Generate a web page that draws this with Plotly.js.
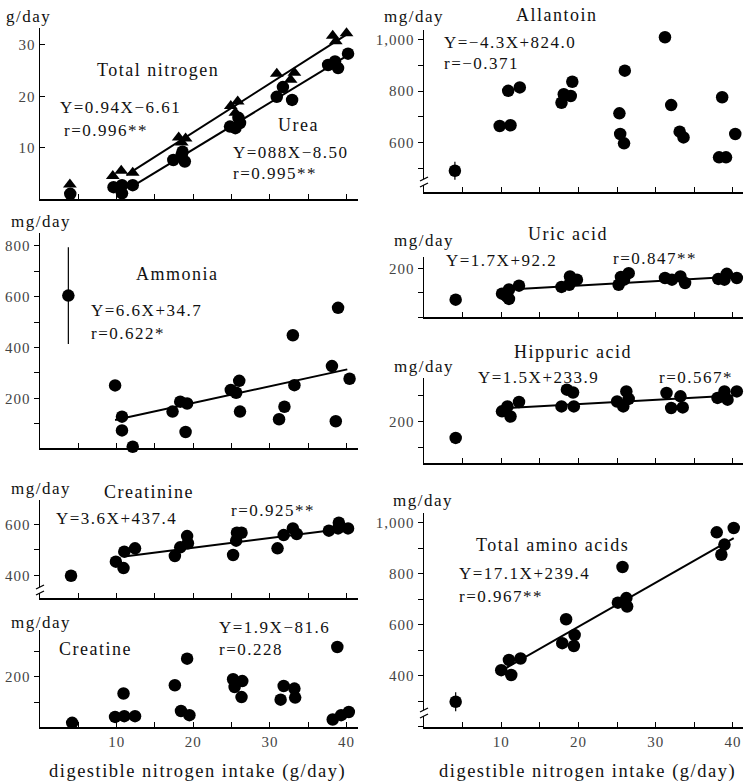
<!DOCTYPE html>
<html>
<head>
<meta charset="utf-8">
<script src="https://cdn.plot.ly/plotly-3.0.1.min.js"></script>
<style>
html,body{margin:0;padding:0;background:#fff;}
#chart{width:745px;height:784px;}
.annotation-text{letter-spacing:1.5px;}
.yaxislayer-above text,.xaxislayer-above text{letter-spacing:1px;}
</style>
</head>
<body>
<div id="chart"></div>
<script>
// ---------- DATA ----------
// Total nitrogen (triangles) and urea (circles), g/day
const tnX = [3.9, 9.5, 10.6, 12.1, 18.1, 19.0, 18.5, 24.9, 25.8, 25.5, 30.9, 33.2, 32.7, 38.2, 40.0, 38.6];
const tnY = [2.8, 4.5, 5.5, 5.1, 12.0, 11.8, 11.0, 18.1, 19.0, 16.8, 24.4, 24.6, 23.2, 31.8, 32.3, 30.7];
const ureaX = [3.95, 9.6, 10.7, 12.1, 10.7, 17.4, 18.5, 18.9, 18.6, 24.8, 25.5, 26.1, 25.9, 30.9, 31.7, 32.9, 37.6, 38.5, 38.9, 40.2];
const ureaY = [1.0, 2.3, 2.7, 2.7, 1.1, 7.6, 8.6, 7.3, 9.2, 14.1, 13.8, 14.8, 15.8, 19.9, 21.8, 19.3, 26.1, 26.8, 25.5, 28.3];
const tnFitX = [11.3, 40.0], tnFitY = [4.7, 32.0];
const ureaFitX = [12.0, 40.2], ureaFitY = [2.4, 28.0];

// Ammonia, mg/day
const ammX = [3.7, 9.8, 10.7, 10.7, 12.1, 17.3, 18.3, 19.2, 19.0, 24.9, 25.6, 26.0, 26.1, 31.2, 31.9, 33.0, 33.2, 38.1, 38.6, 38.9, 40.4];
const ammY = [604, 251, 128, 74, 10, 148, 187, 180, 68, 233, 222, 269, 148, 118, 167, 448, 252, 327, 110, 556, 277];
const ammErr = [190, 0, 0, 0, 0, 0, 0, 0, 0, 0, 0, 0, 0, 0, 0, 0, 0, 0, 0, 0, 0];
const ammFitX = [9.8, 40.1], ammFitY = [115, 314];

// Creatinine, mg/day
const crnX = [4.05, 9.9, 10.9, 11.0, 12.4, 17.6, 18.3, 19.2, 19.3, 25.2, 25.6, 25.7, 26.3, 31.0, 31.8, 33.0, 33.5, 37.7, 38.9, 39.0, 40.2];
const crnY = [399, 454, 429, 493, 506, 476, 510, 554, 526, 480, 536, 567, 567, 506, 558, 584, 562, 575, 584, 606, 584];
const crnFitX = [11.0, 39.9], crnFitY = [474, 584];

// Creatine, mg/day
const creX = [4.2, 9.8, 10.9, 11.0, 12.4, 17.6, 18.4, 19.5, 19.2, 25.2, 25.4, 26.4, 26.3, 31.4, 31.8, 33.2, 33.3, 38.2, 38.8, 39.3, 40.3];
const creY = [22, 45, 136, 48, 48, 168, 68, 52, 271, 191, 161, 184, 122, 112, 165, 155, 120, 35, 316, 52, 64];

// Allantoin, mg/day
const allX = [4.0, 9.8, 11.2, 10.9, 12.4, 17.8, 18.1, 19.0, 19.2, 25.3, 25.4, 25.9, 26.0, 31.2, 32.0, 33.1, 33.6, 38.2, 39.1, 38.6, 40.3];
const allY = [492, 665, 668, 801, 814, 755, 788, 781, 836, 714, 634, 598, 879, 1008, 746, 643, 621, 544, 544, 776, 634];
const allErr = [35, 0, 0, 0, 0, 0, 0, 0, 0, 0, 0, 0, 0, 0, 0, 0, 0, 0, 0, 0, 0];

// Uric acid, mg/day
const uriX = [4.1, 10.1, 10.7, 11.0, 11.0, 12.3, 17.8, 18.9, 19.8, 18.8, 25.2, 25.5, 26.5, 25.9, 31.2, 32.1, 33.2, 33.8, 38.1, 39.2, 38.9, 40.5];
const uriY = [72, 97, 86, 75, 114, 130, 125, 168, 155, 134, 134, 166, 182, 155, 162, 155, 168, 141, 158, 179, 155, 162];
const uriFitX = [11.1, 40.5], uriFitY = [114, 168];

// Hippuric acid, mg/day
const hipX = [4.1, 10.1, 10.8, 11.2, 12.3, 17.8, 18.5, 19.3, 19.4, 25.0, 25.8, 26.2, 26.5, 31.4, 32.0, 33.2, 33.5, 38.0, 38.9, 39.3, 40.5];
const hipY = [136, 239, 258, 219, 275, 258, 323, 312, 258, 277, 258, 316, 287, 310, 252, 297, 254, 291, 316, 284, 316];
const hipFitX = [10.7, 40.1], hipFitY = [252, 300];

// Total amino acids, mg/day
const amiX = [4.1, 10.0, 11.0, 11.3, 12.5, 17.9, 18.4, 19.4, 19.5, 25.1, 25.7, 26.2, 26.3, 37.9, 38.5, 38.9, 40.1];
const amiY = [298, 422, 462, 403, 468, 528, 622, 517, 560, 687, 827, 705, 672, 963, 875, 915, 980];
const amiErr = [37, 0, 0, 0, 0, 0, 0, 0, 0, 0, 0, 0, 0, 0, 0, 0, 0];
const amiFitX = [10.3, 40.1], amiFitY = [425, 940];

const xTickVals = [10, 20, 30, 40];
const xTickText = ['10', '20', '30', '40'];
const tnTicks = [10, 20, 30];
const ammTicks = [200, 400, 600, 800];
const crnTicks = [400, 600];
const creTicks = [200];
const allTicks = [600, 800, 1000];
const uriTicks = [200];
const hipTicks = [200];
const amiTicks = [400, 600, 800, 1000];

// ---------- LAYOUT HELPERS ----------
const W = 745, H = 784;
const FONT = 'Liberation Serif, Times New Roman, serif';
const px = v => v / W;
const py = v => 1 - v / H;

const dot = (x, y, ax, err) => {
  const t = {x: x, y: y, xaxis: 'x' + ax, yaxis: 'y' + ax, mode: 'markers', type: 'scatter',
    marker: {symbol: 'circle', size: 12.5, color: '#000'}, hoverinfo: 'x+y', showlegend: false, cliponaxis: false};
  if (err) t.error_y = {type: 'data', array: err, visible: true, width: 0, thickness: 1.2, color: '#000'};
  return t;
};
const fit = (x, y, ax) => ({x: x, y: y, xaxis: 'x' + ax, yaxis: 'y' + ax, mode: 'lines', type: 'scatter',
  line: {color: '#000', width: 2}, hoverinfo: 'skip', showlegend: false});

const traces = [
  fit(tnFitX, tnFitY, ''), fit(ureaFitX, ureaFitY, ''),
  {x: tnX, y: tnY, xaxis: 'x', yaxis: 'y', mode: 'markers', type: 'scatter',
   marker: {symbol: 'triangle-up', size: 12, color: '#000'}, showlegend: false, cliponaxis: false},
  dot(ureaX, ureaY, ''),
  fit(ammFitX, ammFitY, 2), dot(ammX, ammY, 2, ammErr),
  fit(crnFitX, crnFitY, 3), dot(crnX, crnY, 3),
  dot(creX, creY, 4),
  dot(allX, allY, 5, allErr),
  fit(uriFitX, uriFitY, 6), dot(uriX, uriY, 6),
  fit(hipFitX, hipFitY, 7), dot(hipX, hipY, 7),
  fit(amiFitX, amiFitY, 8), dot(amiX, amiY, 8, amiErr)
];

const leftDom = [px(40), px(358)], rightDom = [px(424), px(743)];
const xa = (dom, range, anchor, labels) => ({
  domain: dom, range: range, anchor: anchor, showgrid: false, zeroline: false,
  showline: true, linecolor: '#000', linewidth: 1.5,
  tickmode: 'array', tickvals: xTickVals, ticktext: labels ? xTickText : ['', '', '', ''],
  ticks: 'inside', ticklen: 5, tickcolor: '#000', tickwidth: 1,
  minor: {tickmode: 'linear', tick0: 0, dtick: 5, ticks: 'inside', ticklen: 5, tickcolor: '#000'},
  tickfont: {family: FONT, size: 15, color: '#444'}, fixedrange: true
});
const ya = (top, bot, range, anchor, vals, minor, tickdir) => {
  const a = {
    domain: [py(bot), py(top)], range: range, anchor: anchor, showgrid: false, zeroline: false,
    showline: true, linecolor: '#000', linewidth: 1.5,
    tickmode: 'array', tickvals: vals, ticks: tickdir || 'outside', ticklen: 5, tickcolor: '#000', tickwidth: 1,
    tickfont: {family: FONT, size: 15, color: '#444'}, fixedrange: true, tickformat: ',d'
  };
  if (minor) a.minor = {tickmode: 'linear', tick0: 0, dtick: minor, ticks: tickdir || 'outside', ticklen: 5, tickcolor: '#000'};
  return a;
};

const layout = {
  width: W, height: H, margin: {l: 0, r: 0, t: 0, b: 0}, paper_bgcolor: '#fff', plot_bgcolor: 'rgba(0,0,0,0)',
  showlegend: false, font: {family: FONT, color: '#111'},
  xaxis: xa(leftDom, [0, 41.5], 'y', false),
  yaxis: ya(28, 199, [0, 33.3], 'x', tnTicks, null, 'inside'),
  xaxis2: xa(leftDom, [0, 41.5], 'y2', false),
  yaxis2: ya(233, 448, [5, 850], 'x2', ammTicks, 100),
  xaxis3: xa(leftDom, [0, 41.5], 'y3', false),
  yaxis3: ya(500, 598, [312, 695], 'x3', crnTicks, 100),
  xaxis4: xa(leftDom, [0, 41.5], 'y4', true),
  yaxis4: ya(630, 727, [6, 382], 'x4', creTicks, 100),
  xaxis5: xa(rightDom, [0, 41.3], 'y5', false),
  yaxis5: ya(30, 192, [410, 1036], 'x5', allTicks, 100),
  xaxis6: xa(rightDom, [0, 41.3], 'y6', false),
  yaxis6: ya(257, 317, [0, 249], 'x6', uriTicks, 100),
  xaxis7: xa(rightDom, [0, 41.3], 'y7', false),
  yaxis7: ya(378, 463, [39, 368], 'x7', hipTicks, 100),
  xaxis8: xa(rightDom, [0, 41.3], 'y8', true),
  yaxis8: ya(513, 727, [199, 1039], 'x8', amiTicks, 100),
  annotations: [],
  shapes: []
};

const ann = (text, x, y, size, color) => layout.annotations.push({
  text: text, x: px(x), y: py(y), xref: 'paper', yref: 'paper', xanchor: 'left', yanchor: 'middle',
  showarrow: false, font: {family: FONT, size: size || 17, color: color || '#111'}
});

// left column
ann('g/day', 4, 17, 17);
ann('Total nitrogen', 95, 70, 18);
ann('Y=0.94X−6.61', 58, 108, 17);
ann('r=0.996**', 62, 130, 17);
ann('Urea', 276, 125, 18);
ann('Y=088X−8.50', 231, 152, 17);
ann('r=0.995**', 231, 173, 17);

ann('mg/day', 9, 221, 17);
ann('Ammonia', 134, 274, 18);
ann('Y=6.6X+34.7', 89, 311, 17);
ann('r=0.622*', 89, 333, 17);

ann('mg/day', 9, 489, 17);
ann('Creatinine', 102, 492, 18);
ann('Y=3.6X+437.4', 54, 518, 17);
ann('r=0.925**', 229, 510, 17);

ann('mg/day', 9, 622, 17);
ann('Creatine', 57, 649, 18);
ann('Y=1.9X−81.6', 217, 627, 17);
ann('r=0.228', 217, 649, 17);

ann('digestible nitrogen intake (g/day)', 47, 771, 18.5);

// right column
ann('mg/day', 382, 16, 17);
ann('Allantoin', 514, 15, 18);
ann('Y=−4.3X+824.0', 442, 42, 17);
ann('r=−0.371', 442, 64, 17);

ann('mg/day', 392, 240, 17);
ann('Uric acid', 526, 234, 18);
ann('Y=1.7X+92.2', 444, 260, 17);
ann('r=0.847**', 611, 259, 17);

ann('Hippuric acid', 512, 352, 18);
ann('mg/day', 392, 366, 17);
ann('Y=1.5X+233.9', 476, 377, 17);
ann('r=0.567*', 657, 377, 17);

ann('mg/day', 391, 500, 17);
ann('Total amino acids', 474, 545, 18);
ann('Y=17.1X+239.4', 457, 573, 17);
ann('r=0.967**', 457, 596, 17);

ann('digestible nitrogen intake (g/day)', 437, 771, 18.5);

// axis-break marks on the broken y axes (decoration)
const brk = (ax, ay) => {
  layout.shapes.push({type: 'rect', xref: 'paper', yref: 'paper', x0: px(ax - 3), x1: px(ax + 3), y0: py(ay + 3), y1: py(ay - 3), fillcolor: '#fff', line: {width: 0}});
  layout.shapes.push({type: 'line', xref: 'paper', yref: 'paper', x0: px(ax - 4), x1: px(ax + 4), y0: py(ay - 1), y1: py(ay - 5), line: {color: '#000', width: 1.3}});
  layout.shapes.push({type: 'line', xref: 'paper', yref: 'paper', x0: px(ax - 4), x1: px(ax + 4), y0: py(ay + 5), y1: py(ay + 1), line: {color: '#000', width: 1.3}});
};
brk(40, 590);
brk(424, 182);
brk(424, 713);

Plotly.newPlot('chart', traces, layout, {staticPlot: true, displayModeBar: false});
</script>
</body>
</html>
